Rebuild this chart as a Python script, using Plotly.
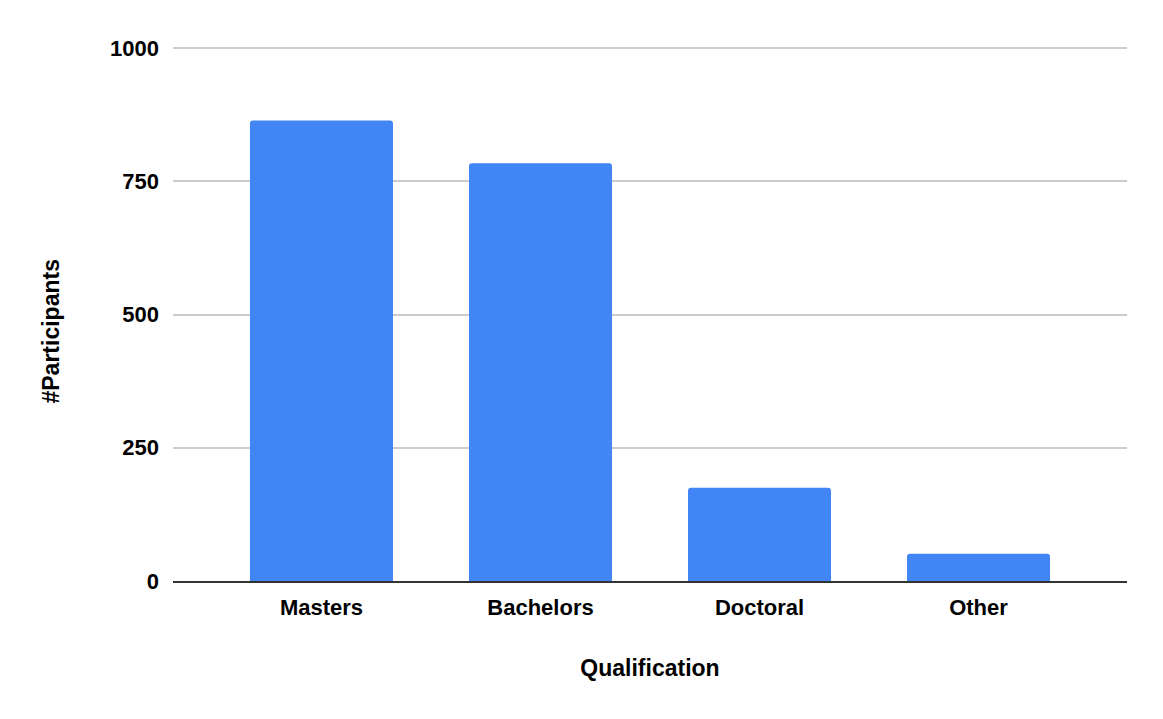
import plotly.graph_objects as go

qualifications = ["Masters", "Bachelors", "Doctoral", "Other"]
participants = [864, 784, 175, 51]
y_ticks = [0, 250, 500, 750, 1000]

fig = go.Figure()
fig.add_trace(go.Bar(
    x=qualifications, y=participants,
    marker=dict(color="#4285F4", cornerradius=3, line=dict(width=0)),
))

font_bold = dict(family="Liberation Sans, Arial, sans-serif", size=22, color="#000000")

# the page body adds an 8px offset, margins are compensated for it
fig.update_layout(
    width=1163, height=719,
    plot_bgcolor="white", paper_bgcolor="white",
    margin=dict(l=165, r=44, t=39, b=146),
    bargap=0.347,
    showlegend=False,
    font=dict(family="Liberation Sans, Arial, sans-serif", color="#000000"),
    annotations=[dict(
        text="<b>#Participants</b>", textangle=-90,
        xref="paper", yref="paper", x=-0.128, y=0.467,
        xanchor="center", yanchor="middle", showarrow=False,
        font=dict(size=23, color="#000000"),
    )],
)
fig.update_xaxes(
    range=[-0.678, 3.678],
    showgrid=False,
    showline=True, linecolor="#333333", linewidth=2,
    tickvals=qualifications,
    ticktext=[f"<b>{q}</b>" for q in qualifications],
    tickfont=font_bold,
    ticklabelstandoff=6,
    title=dict(text="<b>Qualification</b>", font=dict(size=23), standoff=40),
)
fig.update_yaxes(
    range=[0, 1002],
    tickvals=y_ticks,
    ticktext=[f"<b>{v}</b>" for v in y_ticks],
    tickfont=font_bold,
    gridcolor="#cccccc", gridwidth=1.5,
    zeroline=False,
    ticklabelstandoff=13,
)

fig.write_html("out.html")
